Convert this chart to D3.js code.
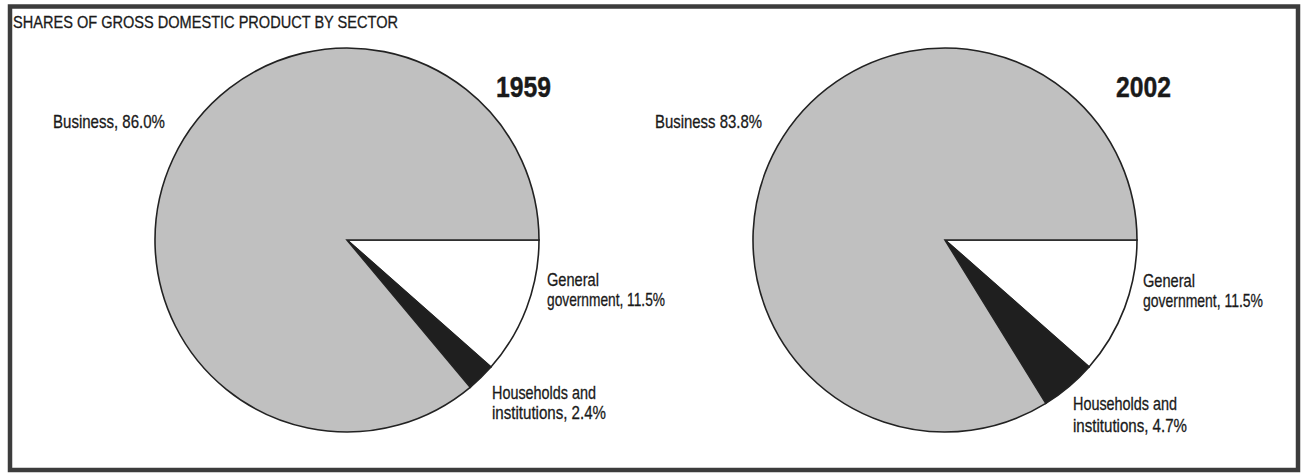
<!DOCTYPE html>
<html><head><meta charset="utf-8">
<script src="https://cdn.jsdelivr.net/npm/d3@7/dist/d3.min.js"></script>
<style>html,body{margin:0;padding:0;background:#fff;}svg{display:block;}</style>
</head><body>
<svg id="c" width="1302" height="474"></svg>
<script>
const title = "SHARES OF GROSS DOMESTIC PRODUCT BY SECTOR";
const sectors = ["General government", "Households and institutions", "Business"];
const years = ["1959", "2002"];
const values1959 = [11.5, 2.4, 86.0];
const values2002 = [11.5, 4.7, 83.8];
const labels1959 = [["General", "government, 11.5%"], ["Households and", "institutions, 2.4%"], ["Business, 86.0%"]];
const labels2002 = [["General", "government, 11.5%"], ["Households and", "institutions, 4.7%"], ["Business 83.8%"]];
const colors = ["#ffffff", "#1f1f1f", "#c0c0c0"];

const svg = d3.select("#c");
svg.append("rect").attr("x", 10).attr("y", 6.5).attr("width", 1288).attr("height", 463.5)
  .attr("fill", "#fff").attr("stroke", "#3c3c3c").attr("stroke-width", 4.5);

const font = "Liberation Sans, Arial, sans-serif";
svg.append("text").attr("x", 13).attr("y", 28).text(title)
  .attr("font-family", font).attr("font-size", 17)
  .attr("textLength", 385).attr("lengthAdjust", "spacingAndGlyphs")
  .attr("fill", "#1a1a1a").attr("stroke", "#1a1a1a").attr("stroke-width", 0.3);

const R = 192;
const pies = [
  {year: years[0], values: values1959, labels: labels1959, cx: 347, cy: 240,
   yearPos: [496, 97, 55],
   labelPos: [[547, 286, 20, [52, 118]], [492, 399, 19.5, [104, 114]], [53, 128, 0, [112]]]},
  {year: years[1], values: values2002, labels: labels2002, cx: 945, cy: 240,
   yearPos: [1116, 97, 55],
   labelPos: [[1143, 287, 20, [52, 120]], [1073, 410, 21.5, [104, 114]], [655, 128, 0, [107]]]}
];

const pie = d3.pie().sort(null).value(d => d).startAngle(Math.PI / 2).endAngle(Math.PI / 2 + 2 * Math.PI);
const arc = d3.arc().innerRadius(0).outerRadius(R);

pies.forEach(p => {
  const g = svg.append("g").attr("transform", `translate(${p.cx},${p.cy})`);
  const total = d3.sum(p.values);
  g.selectAll("path").data(pie(p.values.map(v => v / total * 100))).join("path")
    .attr("d", arc).attr("fill", (d, i) => colors[i])
    .attr("stroke", "#222").attr("stroke-width", 1.6).attr("stroke-linejoin", "miter");

  svg.append("text").attr("x", p.yearPos[0]).attr("y", p.yearPos[1]).text(p.year)
    .attr("font-family", font).attr("font-weight", "bold").attr("font-size", 29)
    .attr("textLength", p.yearPos[2]).attr("lengthAdjust", "spacingAndGlyphs")
    .attr("fill", "#1a1a1a").attr("stroke", "#1a1a1a").attr("stroke-width", 0.4);

  p.labels.forEach((lines, i) => {
    const [x, y, dy, widths] = p.labelPos[i];
    lines.forEach((line, j) => {
      svg.append("text").attr("x", x).attr("y", y + j * dy).text(line)
        .attr("font-family", font).attr("font-size", 18.5)
        .attr("fill", "#1a1a1a").attr("stroke", "#1a1a1a").attr("stroke-width", 0.3)
        .attr("textLength", widths[j]).attr("lengthAdjust", "spacingAndGlyphs");
    });
  });
});
</script>
</body></html>
